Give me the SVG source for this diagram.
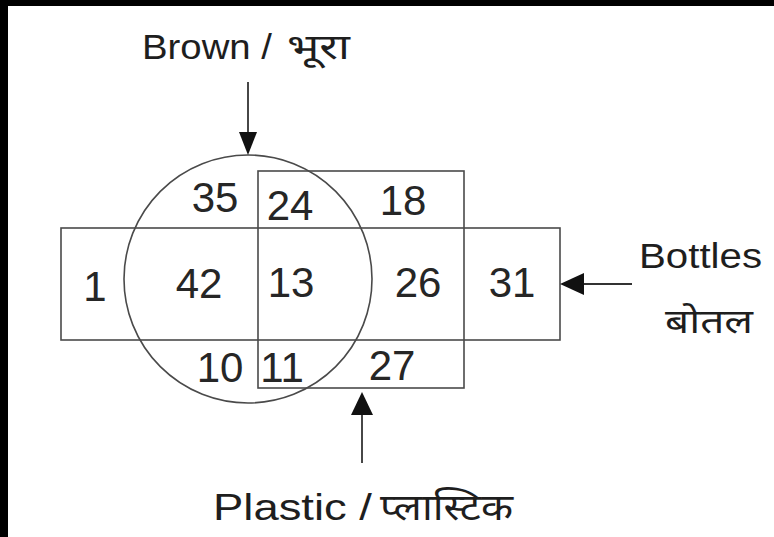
<svg xmlns="http://www.w3.org/2000/svg" width="774" height="537" viewBox="0 0 774 537">
<style>
.ln{fill:none;stroke:#4a4a4a;stroke-width:1.6}
.num{font-family:"Liberation Sans",Arial,sans-serif;font-size:42px;fill:#262626;text-anchor:middle}
.lbl{font-family:"Liberation Sans","Noto Sans",sans-serif;fill:#1e1e1e}
.ar{stroke:#333;stroke-width:1.8;fill:none}
.hd{fill:#111}
</style>
<rect x="0" y="0" width="774" height="537" fill="#fff"/>
<rect x="0" y="0" width="774" height="6" fill="#000"/>
<rect x="0" y="0" width="8" height="537" fill="#000"/>
<g id="bottles">
<rect class="ln" x="61" y="228" width="499" height="112"/>
</g>
<g id="plastic">
<rect class="ln" x="258" y="171" width="206" height="217"/>
</g>
<g id="brown">
<circle class="ln" cx="248" cy="279" r="124"/>
</g>
<g id="numbers">
<text class="num" x="215" y="212">35</text>
<text class="num" x="290" y="220">24</text>
<text class="num" x="403" y="215">18</text>
<text class="num" x="95" y="301">1</text>
<text class="num" x="199" y="298">42</text>
<text class="num" x="291" y="297">13</text>
<text class="num" x="418" y="297">26</text>
<text class="num" x="512" y="297">31</text>
<text class="num" x="220" y="382">10</text>
<text class="num" x="282" y="382">11</text>
<text class="num" x="392" y="380">27</text>
</g>
<g id="connectors">
<line class="ar" x1="248" y1="82" x2="248" y2="134"/>
<polygon class="hd" points="239,132 257,132 248,155"/>
<line class="ar" x1="632" y1="284" x2="582" y2="284"/>
<polygon class="hd" points="584,273 584,295 560,284"/>
<line class="ar" x1="362" y1="463" x2="362" y2="413"/>
<polygon class="hd" points="351,415 373,415 362,392"/>
</g>
<g id="label-brown">
<text class="lbl" x="142" y="59" font-size="35" textLength="130" lengthAdjust="spacingAndGlyphs">Brown /</text>
<text class="lbl" x="287" y="59" font-size="35" textLength="63" lengthAdjust="spacingAndGlyphs">भूरा</text>
</g>
<g id="label-bottles">
<text class="lbl" x="639" y="268" font-size="35" textLength="123" lengthAdjust="spacingAndGlyphs">Bottles</text>
<text class="lbl" x="665" y="333" font-size="34" textLength="88" lengthAdjust="spacingAndGlyphs">बोतल</text>
</g>
<g id="label-plastic">
<text class="lbl" x="213" y="520" font-size="37" textLength="159" lengthAdjust="spacingAndGlyphs">Plastic /</text>
<text class="lbl" x="380" y="520" font-size="37" textLength="133" lengthAdjust="spacingAndGlyphs">प्लास्टिक</text>
</g>
</svg>
